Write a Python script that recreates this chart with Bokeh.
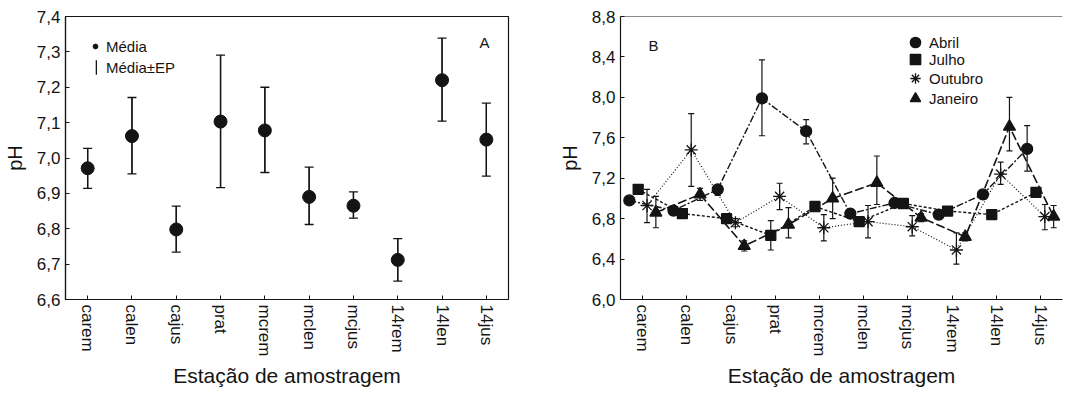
from bokeh.plotting import figure
from bokeh.models import (Range1d, ColumnDataSource, Whisker, TeeHead, Legend, LegendItem,
                          FixedTicker, Label, Span)
from bokeh.transform import dodge
from bokeh.layouts import row
from bokeh.embed import file_html
from bokeh.resources import INLINE

# ---------------- data ----------------
stations = ["carem", "calen", "cajus", "prat", "mcrem", "mclen", "mcjus", "14rem", "14len", "14jus"]

# Panel A: mean and mean +/- standard error
mean_a = [6.971, 7.062, 6.798, 7.103, 7.078, 6.890, 6.865, 6.712, 7.220, 7.052]
upper_a = [7.027, 7.171, 6.864, 7.291, 7.200, 6.974, 6.904, 6.772, 7.339, 7.155]
lower_a = [6.914, 6.955, 6.734, 6.916, 6.959, 6.812, 6.830, 6.652, 7.104, 6.949]

# Panel B: monthly means with +/- standard error
months = ["Abril", "Julho", "Outubro", "Janeiro"]
abril = [6.98, 6.88, 7.09, 7.99, 7.665, 6.85, 6.955, 6.84, 7.04, 7.49]
abril_up = [7.02, 6.92, 7.13, 8.37, 7.78, 6.89, 6.99, 6.88, 7.08, 7.72]
abril_lo = [6.94, 6.84, 7.03, 7.62, 7.54, 6.81, 6.92, 6.80, 7.00, 7.27]

julho = [7.09, 6.85, 6.80, 6.635, 6.92, 6.77, 6.95, 6.875, 6.84, 7.06]
julho_up = [7.13, 6.89, 6.84, 6.78, 6.96, 6.81, 6.99, 6.91, 6.88, 7.10]
julho_lo = [7.05, 6.81, 6.76, 6.49, 6.88, 6.73, 6.91, 6.84, 6.80, 7.02]

outubro = [6.93, 7.48, 6.76, 7.02, 6.71, 6.77, 6.72, 6.49, 7.24, 6.82]
outubro_up = [7.09, 7.84, 6.80, 7.15, 6.84, 6.93, 6.83, 6.66, 7.36, 6.94]
outubro_lo = [6.76, 7.12, 6.72, 6.89, 6.58, 6.61, 6.63, 6.35, 7.14, 6.69]

janeiro = [6.86, 7.04, 6.53, 6.74, 7.00, 7.155, 6.81, 6.62, 7.71, 6.82]
janeiro_up = [7.02, 7.10, 6.58, 6.91, 7.20, 7.42, 6.85, 6.66, 8.00, 6.93]
janeiro_lo = [6.71, 6.98, 6.48, 6.61, 6.80, 6.94, 6.77, 6.58, 7.47, 6.71]

yticks_a = [6.6, 6.7, 6.8, 6.9, 7.0, 7.1, 7.2, 7.3, 7.4]
ytick_labels_a = ["6,6", "6,7", "6,8", "6,9", "7,0", "7,1", "7,2", "7,3", "7,4"]
yticks_b = [6.0, 6.4, 6.8, 7.2, 7.6, 8.0, 8.4, 8.8]
ytick_labels_b = ["6,0", "6,4", "6,8", "7,2", "7,6", "8,0", "8,4", "8,8"]

x_title = "Estação de amostragem"
y_title = "pH"

# ---------------- style ----------------
FONT = "Liberation Sans"
INK = "#141414"
FRAME_H = 283
TOP = 16


def style(p, yticks, ylabels):
    p.xgrid.visible = False
    p.ygrid.visible = False
    p.background_fill_color = "white"
    p.border_fill_color = "white"
    p.yaxis.ticker = FixedTicker(ticks=yticks)
    p.yaxis.major_label_overrides = dict(zip(yticks, ylabels))
    for ax in p.axis:
        ax.axis_line_color = INK
        ax.axis_line_width = 1.2
        ax.major_tick_line_color = INK
        ax.major_tick_in = 4
        ax.major_tick_out = 0
        ax.minor_tick_line_color = None
        ax.major_label_text_font = FONT
        ax.major_label_text_font_size = "17px"
        ax.major_label_text_color = INK
        ax.axis_label_text_font = FONT
        ax.axis_label_text_font_style = "normal"
        ax.axis_label_text_color = INK
    p.xaxis.major_label_orientation = "vertical"
    p.xaxis.major_label_standoff = 5
    p.xaxis.axis_label = x_title
    p.xaxis.axis_label_text_font_size = "21px"
    p.xaxis.axis_label_standoff = 5
    p.yaxis.axis_label = y_title
    p.yaxis.axis_label_text_font_size = "20px"
    p.yaxis.major_label_standoff = 5
    p.yaxis.axis_label_standoff = 8


def one_item_legend(label, renderers, x, y, gw, gh, standoff):
    return Legend(items=[LegendItem(label=label, renderers=renderers)],
                  location=(x, y), glyph_width=gw, glyph_height=gh, label_height=18,
                  label_standoff=standoff, padding=0, margin=0, border_line_color=None,
                  background_fill_alpha=0, label_text_font=FONT, label_text_font_size="15px",
                  label_text_color=INK)


# ---------------- panel A ----------------
pA = figure(x_range=stations, y_range=Range1d(6.6, 7.4),
            frame_width=443, frame_height=FRAME_H,
            min_border_left=60, min_border_right=29, min_border_top=TOP, min_border_bottom=5,
            output_backend="svg", toolbar_location=None)
style(pA, yticks_a, ytick_labels_a)
pA.outline_line_color = INK
pA.outline_line_width = 1.2

srcA = ColumnDataSource(dict(station=stations, mean=mean_a, upper=upper_a, lower=lower_a))
pA.add_layout(Whisker(source=srcA, base="station", upper="upper", lower="lower",
                      dimension="height", line_color=INK, line_width=1.3,
                      upper_head=TeeHead(size=9, line_color=INK, line_width=1.3),
                      lower_head=TeeHead(size=9, line_color=INK, line_width=1.3)))
# thin stems (also serve as the legend key for the error bars)
stems = pA.vbar(x="station", top="upper", bottom="lower", width=0.03, source=srcA,
                fill_color=INK, line_color=None)
means = pA.scatter("station", "mean", source=srcA, size=13, marker="circle",
                   fill_color=INK, line_color=INK)

pA.add_layout(one_item_legend("Média", [means], 24, FRAME_H - 30 - 9, 12, 12, 5))
pA.add_layout(one_item_legend("Média±EP", [stems], 30, FRAME_H - 51 - 9, 2, 18, 9))
pA.add_layout(Label(x=419, y=FRAME_H - 26, x_units="screen", y_units="screen", text="A",
                    text_font=FONT, text_font_size="15px", text_color=INK,
                    text_align="center", text_baseline="middle"))

# ---------------- panel B ----------------
pB = figure(x_range=stations, y_range=Range1d(6.0, 8.8),
            frame_width=442, frame_height=FRAME_H,
            min_border_left=83, min_border_right=5, min_border_top=TOP, min_border_bottom=5,
            output_backend="svg", toolbar_location=None)
style(pB, yticks_b, ytick_labels_b)
pB.outline_line_color = None
# top frame edge only (the right edge is cut off in the original)
pB.add_layout(Span(location=pB.y_range.end, dimension="width", line_color=INK, line_width=1.2))

series = [
    (abril, abril_up, abril_lo, "circle", 11, "7 2 2 2", 1.4),
    (julho, julho_up, julho_lo, "square", 10, "3 2", 1.4),
    (outubro, outubro_up, outubro_lo, "asterisk", 13, "1 2", 1.2),
    (janeiro, janeiro_up, janeiro_lo, "triangle", 12, "9 3", 1.6),
]
offsets = [-0.3, -0.1, 0.1, 0.3]
legend_centers = [26, 43, 62, 82]  # px below the frame top

for name, (vals, up, lo, marker, size, dash, lw), off, cy in zip(months, series, offsets, legend_centers):
    src = ColumnDataSource(dict(station=stations, v=vals, up=up, lo=lo))
    xs = dodge("station", off, range=pB.x_range)
    pB.line(x=xs, y="v", source=src, line_color=INK, line_width=lw, line_dash=dash)
    pB.add_layout(Whisker(source=src, base=xs, upper="up", lower="lo", dimension="height",
                          line_color=INK, line_width=1.2,
                          upper_head=TeeHead(size=6, line_color=INK, line_width=1.2),
                          lower_head=TeeHead(size=6, line_color=INK, line_width=1.2)))
    r = pB.scatter(x=xs, y="v", source=src, marker=marker, size=size,
                   fill_color=INK, line_color=INK, line_width=1.3)
    pB.add_layout(one_item_legend(name, [r], 282, FRAME_H - cy - 13, 26, 26, 1))

pB.add_layout(Label(x=33, y=FRAME_H - 29, x_units="screen", y_units="screen", text="B",
                    text_font=FONT, text_font_size="15px", text_color=INK,
                    text_align="center", text_baseline="middle"))

layout = row(pA, pB)
open("out.html", "w").write(file_html(layout, INLINE))
